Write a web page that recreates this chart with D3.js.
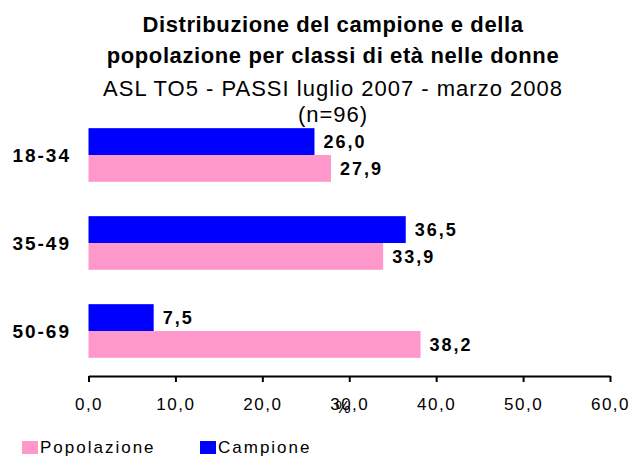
<!DOCTYPE html>
<html>
<head>
<meta charset="utf-8">
<script src="https://cdn.jsdelivr.net/npm/d3@7"></script>
<style>
  body { margin: 0; background: #fff; }
  svg { font-family: "Liberation Sans", Arial, sans-serif; }
</style>
</head>
<body>
<div id="chart"></div>
<script>
const categories = ["18-34", "35-49", "50-69"];
const campione = [26.0, 36.5, 7.5];
const popolazione = [27.9, 33.9, 38.2];
const seriesNames = ["Campione", "Popolazione"];
const seriesColors = ["#0000ff", "#ff99cc"];
const xTicks = [0, 10, 20, 30, 40, 50, 60];
const titleLines = [
  "Distribuzione del campione e della",
  "popolazione per classi di età nelle donne",
  "ASL TO5 - PASSI luglio 2007 - marzo 2008",
  "(n=96)"
];

const width = 638, height = 456;
const fmt = d => d3.format(".1f")(d).replace(".", ",");

const svg = d3.select("#chart").append("svg")
  .attr("width", width)
  .attr("height", height);

// title
const titleY = [32, 63, 96, 122];
svg.selectAll(".title")
  .data(titleLines)
  .enter()
  .append("text")
  .attr("class", "title")
  .attr("x", 333)
  .attr("y", (d, i) => titleY[i])
  .attr("text-anchor", "middle")
  .style("font-size", "22px")
  .style("font-weight", (d, i) => (i < 2 ? "bold" : "normal"))
  .style("letter-spacing", (d, i) => (i < 2 ? "0.6px" : "1px"))
  .text(d => d);

const x = d3.scaleLinear().domain([0, 60]).range([88.5, 610]);
const y = d3.scaleBand().domain(categories).range([111, 375])
  .paddingInner(0.39).paddingOuter(0.195);
const ySub = d3.scaleBand().domain(seriesNames).range([0, y.bandwidth()]);

const rows = categories.map((c, i) => ({ cat: c, values: [campione[i], popolazione[i]] }));

const groups = svg.selectAll(".group")
  .data(rows)
  .enter()
  .append("g")
  .attr("class", "group")
  .attr("transform", d => "translate(0," + y(d.cat) + ")");

groups.selectAll("rect")
  .data(d => d.values.map((v, j) => ({ v: v, s: seriesNames[j], c: seriesColors[j] })))
  .enter()
  .append("rect")
  .attr("x", x(0))
  .attr("y", d => ySub(d.s))
  .attr("width", d => x(d.v) - x(0))
  .attr("height", ySub.bandwidth())
  .attr("fill", d => d.c);

groups.selectAll(".val")
  .data(d => d.values.map((v, j) => ({ v: v, s: seriesNames[j] })))
  .enter()
  .append("text")
  .attr("class", "val")
  .attr("x", d => x(d.v) + 9)
  .attr("y", d => ySub(d.s) + ySub.bandwidth() / 2)
  .attr("dy", "0.36em")
  .style("font-size", "18px")
  .style("font-weight", "bold")
  .style("letter-spacing", "2px")
  .text(d => fmt(d.v));

// category labels
svg.selectAll(".cat")
  .data(categories)
  .enter()
  .append("text")
  .attr("class", "cat")
  .attr("x", 71)
  .attr("y", d => y(d) + y.bandwidth() / 2)
  .attr("dy", "0.36em")
  .attr("text-anchor", "end")
  .style("font-size", "19px")
  .style("font-weight", "bold")
  .style("letter-spacing", "2px")
  .text(d => d);

// x axis
const axis = svg.append("g")
  .attr("transform", "translate(0,376)")
  .call(d3.axisBottom(x).tickValues(xTicks).tickSize(6).tickSizeOuter(0).tickPadding(16).tickFormat(fmt));
axis.select(".domain").attr("stroke", "#000").attr("stroke-width", 2);
axis.selectAll(".tick line").attr("stroke", "#000").attr("stroke-width", 2);
axis.selectAll(".tick text")
  .attr("fill", "#000")
  .style("font-family", "'Liberation Sans', Arial, sans-serif")
  .style("font-size", "17px")
  .style("letter-spacing", "1.5px");

svg.append("text")
  .attr("x", 343)
  .attr("y", 413)
  .attr("text-anchor", "middle")
  .style("font-size", "17px")
  .text("%");

// legend
const legendItems = [
  { name: "Popolazione", color: seriesColors[1], x: 22 },
  { name: "Campione", color: seriesColors[0], x: 200 }
];
const legend = svg.selectAll(".legend")
  .data(legendItems)
  .enter()
  .append("g")
  .attr("class", "legend")
  .attr("transform", d => "translate(" + d.x + ",441)");
legend.append("rect")
  .attr("width", 16)
  .attr("height", 13)
  .attr("fill", d => d.color);
legend.append("text")
  .attr("x", 18)
  .attr("y", 12)
  .style("font-size", "17px")
  .style("letter-spacing", "2px")
  .text(d => d.name);
</script>
</body>
</html>
